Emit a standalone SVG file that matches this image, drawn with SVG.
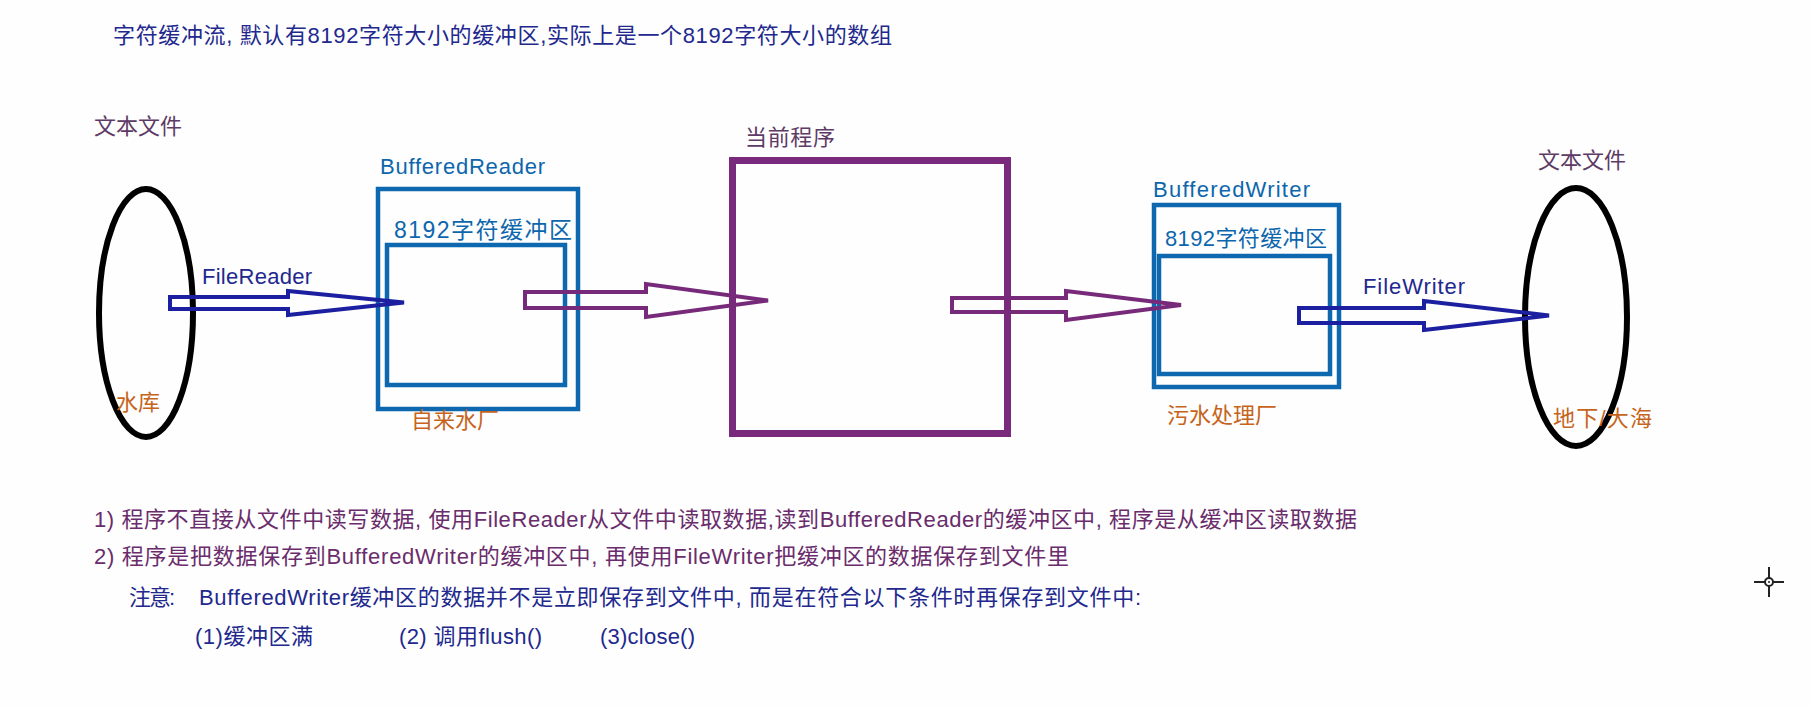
<svg xmlns="http://www.w3.org/2000/svg" width="1812" height="708" viewBox="0 0 1812 708">
<style>
text{font-family:"Liberation Sans","Noto Sans CJK SC",sans-serif;font-size:22px}
.navy{fill:#22288e}
.purple{fill:#6a2c6c}
.dusk{fill:#5e3a66}
.blue{fill:#0d66ad}
.orange{fill:#c6641c}
.big{font-size:23px}
.ell{fill:none;stroke:#000;stroke-width:6}
.bbox{fill:none;stroke:#0d68b0;stroke-width:4.5}
.pbox{fill:none;stroke:#7a2a7c;stroke-width:7}
.arrN{fill:none;stroke:#1c20a0;stroke-width:4;stroke-linejoin:miter}
.arrP{fill:none;stroke:#782a7a;stroke-width:4;stroke-linejoin:miter}
</style>
<rect width="1812" height="708" fill="#fdfefd"/>
<g id="title"><text class="navy" x="113" y="43" textLength="779">字符缓冲流, 默认有8192字符大小的缓冲区,实际上是一个8192字符大小的数组</text></g>
<g id="source-file">
<ellipse class="ell" cx="146" cy="313" rx="47" ry="124"/>
<text class="dusk" x="94" y="134" textLength="88">文本文件</text>
<text class="orange" x="116" y="410" textLength="44">水库</text>
</g>
<g id="buffered-reader">
<rect class="bbox" x="378" y="189" width="200" height="220"/>
<rect class="bbox" x="387" y="245" width="178" height="140"/>
<text class="blue" x="380" y="174" textLength="165">BufferedReader</text>
<text class="blue big" x="394" y="238" textLength="178">8192字符缓冲区</text>
<text class="orange" x="411" y="428" textLength="88">自来水厂</text>
</g>
<g id="program">
<rect class="pbox" x="732.5" y="160.5" width="275" height="273"/>
<text class="dusk" x="745" y="145" textLength="90">当前程序</text>
</g>
<g id="buffered-writer">
<rect class="bbox" x="1154" y="205" width="185" height="182"/>
<rect class="bbox" x="1159" y="256" width="171" height="118"/>
<text class="blue" x="1153" y="197" textLength="157">BufferedWriter</text>
<text class="blue" x="1165" y="246" textLength="162">8192字符缓冲区</text>
<text class="orange" x="1167" y="423" textLength="110">污水处理厂</text>
</g>
<g id="target-file">
<ellipse class="ell" cx="1576" cy="317" rx="51" ry="129"/>
<text class="dusk" x="1538" y="168" textLength="88">文本文件</text>
<text class="orange" x="1553" y="426" textLength="99">地下/大海</text>
</g>
<g id="connectors">
<polygon class="arrN" points="170,297 288,297 288,291 404,302.5 288,315 288,309 170,309"/>
<polygon class="arrP" points="525,292 646,292 646,284 768,300.5 646,317 646,308 525,308"/>
<polygon class="arrP" points="952,298 1066,298 1066,291 1181,305 1066,320 1066,312 952,312"/>
<polygon class="arrN" points="1299,308 1424,308 1424,301 1549,315.5 1424,330 1424,323 1299,323"/>
<text class="navy" x="202" y="284" textLength="110">FileReader</text>
<text class="navy" x="1363" y="294" textLength="102">FileWriter</text>
</g>
<g id="notes">
<text class="purple" x="94" y="527" textLength="1263">1) 程序不直接从文件中读写数据,  使用FileReader从文件中读取数据,读到BufferedReader的缓冲区中, 程序是从缓冲区读取数据</text>
<text class="purple" x="94" y="564" textLength="975">2) 程序是把数据保存到BufferedWriter的缓冲区中, 再使用FileWriter把缓冲区的数据保存到文件里</text>
<text class="navy" x="129" y="605" textLength="46">注意:</text>
<text class="navy" x="199" y="605" textLength="942">BufferedWriter缓冲区的数据并不是立即保存到文件中, 而是在符合以下条件时再保存到文件中:</text>
<text class="navy" x="195" y="644" textLength="118">(1)缓冲区满</text>
<text class="navy" x="399" y="644" textLength="143">(2) 调用flush()</text>
<text class="navy" x="600" y="644" textLength="95">(3)close()</text>
</g>
<g id="cursor" fill="none" stroke="#222" stroke-width="2">
<line x1="1769" y1="567" x2="1769" y2="597"/>
<line x1="1754" y1="582" x2="1784" y2="582"/>
<circle cx="1769" cy="582" r="4" fill="#fff"/>
<circle cx="1769" cy="582" r="1" fill="#222" stroke="none"/>
</g>
</svg>
